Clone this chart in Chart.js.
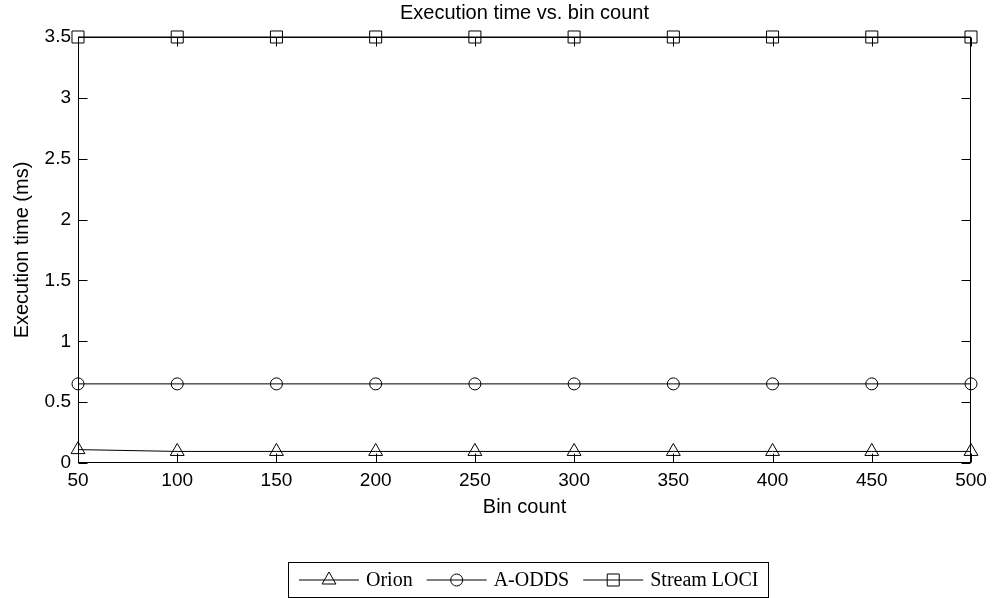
<!DOCTYPE html>
<html>
<head>
<meta charset="utf-8">
<title>Execution time vs. bin count</title>
<script src="https://cdn.jsdelivr.net/npm/chart.js@4.4.1/dist/chart.umd.min.js"></script>
<style>
  html, body { margin: 0; padding: 0; background: #fff; }
  #wrap { width: 993px; height: 598px; position: relative; }
</style>
</head>
<body>
<div id="wrap"><canvas id="execChart"></canvas></div>
<script>
// values
const binCounts = [50, 100, 150, 200, 250, 300, 350, 400, 450, 500];
const orionTimes = [0.11, 0.095, 0.095, 0.095, 0.095, 0.095, 0.095, 0.095, 0.095, 0.095];
const aoddsTimes = [0.65, 0.65, 0.65, 0.65, 0.65, 0.65, 0.65, 0.65, 0.65, 0.65];
const streamLociTimes = [3.5, 3.5, 3.5, 3.5, 3.5, 3.5, 3.5, 3.5, 3.5, 3.5];
const seriesNames = ['Orion', 'A-ODDS', 'Stream LOCI'];
const chartTitle = 'Execution time vs. bin count';
const xLabel = 'Bin count';
const yLabel = 'Execution time (ms)';

const sansFont = '"Liberation Sans", Arial, Helvetica, sans-serif';
const serifFont = '"Liberation Serif", "Times New Roman", serif';

Chart.defaults.font.family = sansFont;
Chart.defaults.font.size = 19;
Chart.defaults.color = '#000';

function toPoints(values) {
    return binCounts.map((b, i) => ({ x: b, y: values[i] }));
}

function series(label, values, style, radius) {
    return {
        label: label,
        data: toPoints(values),
        borderColor: '#000',
        borderWidth: 1,
        backgroundColor: 'rgba(0,0,0,0)',
        pointStyle: style,
        pointRadius: radius,
        pointBorderColor: '#000',
        pointBackgroundColor: 'rgba(0,0,0,0)',
        pointBorderWidth: 1,
        tension: 0,
        fill: false,
        clip: false,
    };
}

function marker(ctx, style, x, y, r) {
    ctx.beginPath();
    if (style === 'triangle') {
        ctx.moveTo(x, y - r);
        ctx.lineTo(x + r * Math.sin(Math.PI * 2 / 3), y + r / 2);
        ctx.lineTo(x - r * Math.sin(Math.PI * 2 / 3), y + r / 2);
        ctx.closePath();
    } else if (style === 'circle') {
        ctx.arc(x, y, r, 0, Math.PI * 2);
    } else {
        const s = r * Math.SQRT1_2;
        ctx.rect(x - s, y - s, 2 * s, 2 * s);
    }
    ctx.stroke();
}

// box, inward ticks, title and the boxed legend underneath
const matlabFrame = {
    id: 'matlabFrame',
    afterDraw(chart) {
        const { ctx, chartArea: a, scales } = chart;
        const L = Math.round(a.left) + 0.5;
        const R = Math.round(a.right) - 0.5;
        const T = Math.round(a.top) + 0.5;
        const B = Math.round(a.bottom) - 0.5;
        const len = 9;

        ctx.save();
        ctx.strokeStyle = '#000';
        ctx.lineWidth = 1;
        ctx.strokeRect(L, T, R - L, B - T);

        ctx.beginPath();
        scales.x.ticks.forEach(t => {
            const px = Math.round(scales.x.getPixelForValue(t.value)) + 0.5;
            ctx.moveTo(px, B); ctx.lineTo(px, B - len);
            ctx.moveTo(px, T); ctx.lineTo(px, T + len);
        });
        scales.y.ticks.forEach(t => {
            const py = Math.round(scales.y.getPixelForValue(t.value)) + 0.5;
            ctx.moveTo(L, py); ctx.lineTo(L + len, py);
            ctx.moveTo(R, py); ctx.lineTo(R - len, py);
        });
        ctx.stroke();

        ctx.fillStyle = '#000';
        ctx.font = '20px ' + sansFont;
        ctx.textAlign = 'center';
        ctx.textBaseline = 'middle';
        ctx.fillText(chartTitle, (a.left + a.right) / 2, 13);

        // legend
        ctx.font = '20px ' + serifFont;
        const lineLen = 60, padL = 11, padR = 9, gapText = 7, gapItem = 14;
        const items = chart.data.datasets.map(ds => ({
            label: ds.label, style: ds.pointStyle, r: ds.pointRadius,
            w: ctx.measureText(ds.label).width,
        }));
        let total = padL + padR;
        items.forEach((it, i) => { total += lineLen + gapText + it.w + (i ? gapItem : 0); });
        const boxTop = 562, boxH = 35;
        let x = Math.round((a.left + a.right) / 2 + 3 - total / 2);
        ctx.strokeRect(x + 0.5, boxTop + 0.5, Math.round(total), boxH);
        const cy = boxTop + boxH / 2 + 0.5;
        x += padL;
        ctx.textAlign = 'left';
        items.forEach((it, i) => {
            if (i) x += gapItem;
            ctx.beginPath();
            ctx.moveTo(x, cy); ctx.lineTo(x + lineLen, cy);
            ctx.stroke();
            marker(ctx, it.style, x + lineLen / 2, cy, it.r);
            x += lineLen + gapText;
            ctx.fillText(it.label, x, cy + 1);
            x += it.w;
        });
        ctx.restore();
    }
};

new Chart(document.getElementById('execChart'), {
    type: 'line',
    data: {
        datasets: [
            series(seriesNames[0], orionTimes, 'triangle', 8),
            series(seriesNames[1], aoddsTimes, 'circle', 6),
            series(seriesNames[2], streamLociTimes, 'rect', 8.5),
        ],
    },
    options: {
        responsive: true,
        maintainAspectRatio: false,
        animation: false,
        layout: {
            padding: { top: 37, right: 22, bottom: 0, left: 0 },
        },
        plugins: {
            legend: { display: false },
            title: { display: false },
            tooltip: { enabled: false },
        },
        scales: {
            x: {
                type: 'linear',
                min: 50,
                max: 500,
                ticks: { stepSize: 50, padding: 6, maxRotation: 0 },
                grid: { display: false, drawTicks: false },
                border: { display: false },
                title: {
                    display: true,
                    text: xLabel,
                    font: { size: 20 },
                    padding: { top: 0, bottom: 79 },
                },
                afterFit(scale) { scale.height = 135; },
            },
            y: {
                type: 'linear',
                min: 0,
                max: 3.5,
                ticks: {
                    stepSize: 0.5,
                    padding: 7,
                    callback: value => String(value),
                },
                grid: { display: false, drawTicks: false },
                border: { display: false },
                title: {
                    display: true,
                    text: yLabel,
                    font: { size: 20 },
                    padding: { top: 10, bottom: 0 },
                },
                afterFit(scale) { scale.width = 78; },
            },
        },
    },
    plugins: [matlabFrame],
});
</script>
</body>
</html>
